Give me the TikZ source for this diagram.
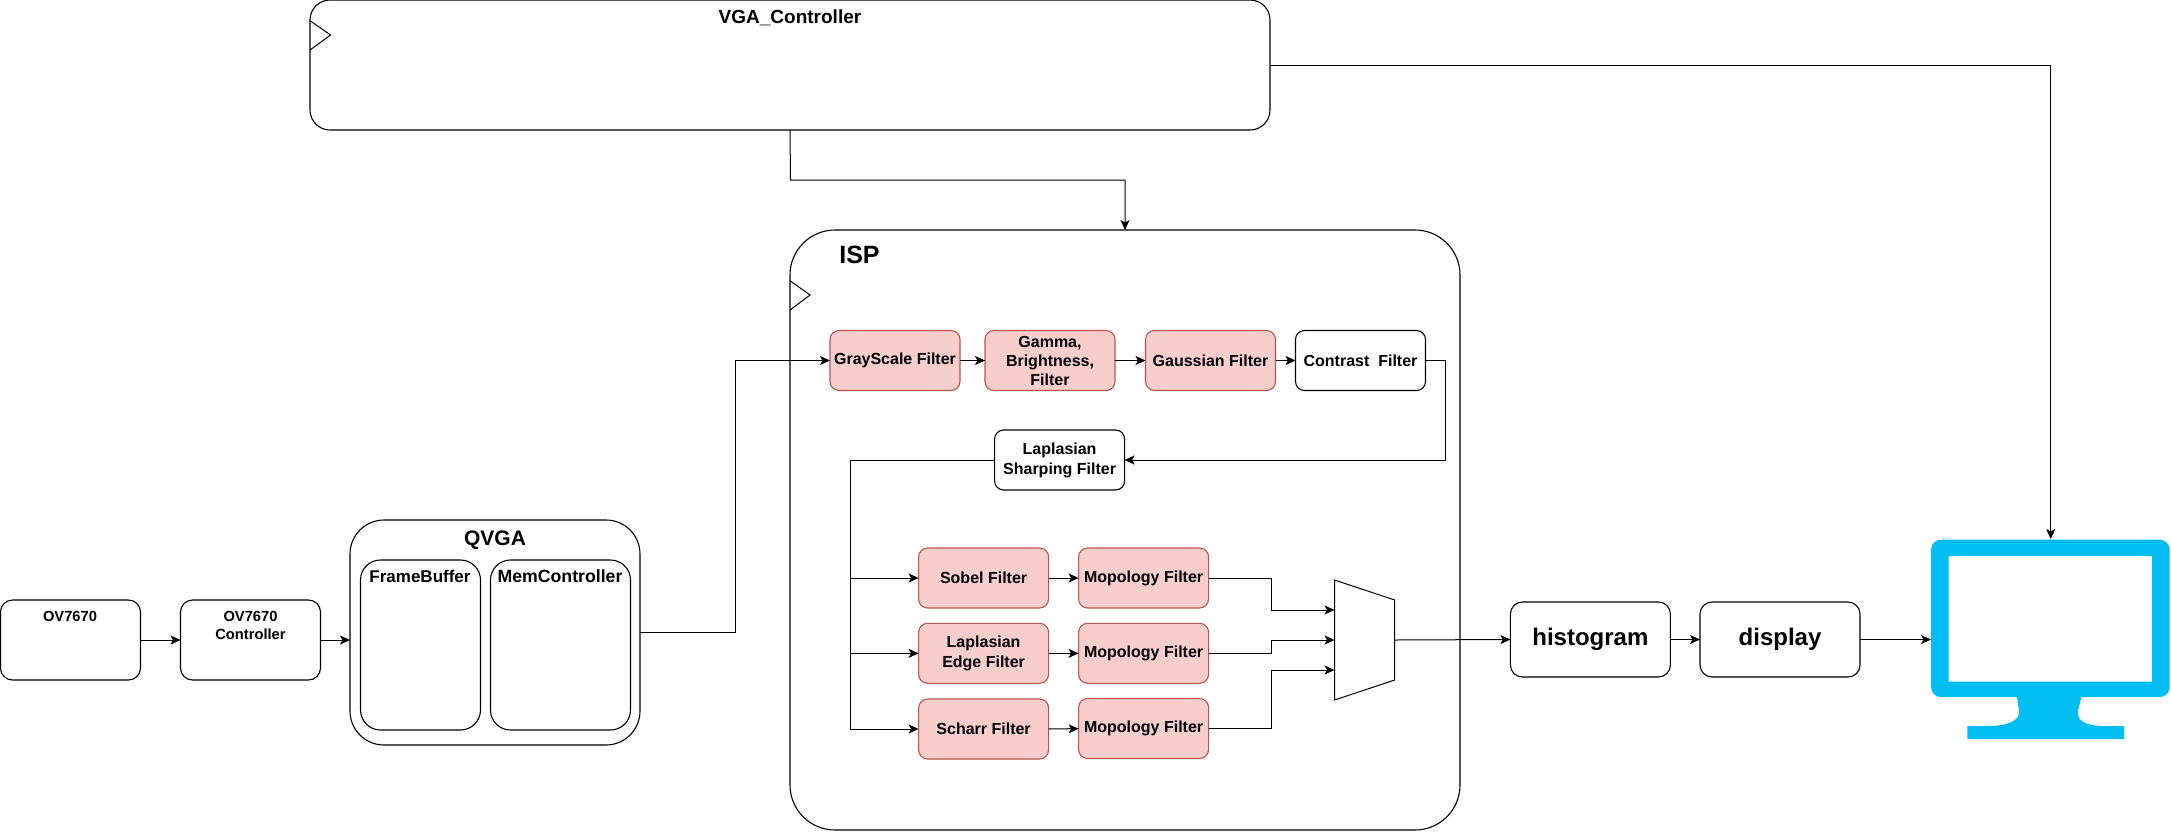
\documentclass[tikz,border=0pt]{standalone}
\usepackage{fontspec}
\setmainfont{Liberation Sans}
\usetikzlibrary{arrows.meta}

\newcommand{\fontfilter}{\fontsize{16}{19}\selectfont\bfseries}
\newcommand{\fontcam}{\fontsize{14.7}{18}\selectfont\bfseries}
\tikzset{
	flow/.style={-{Stealth[length=10pt,width=9pt,inset=2.5pt]}, line width=1pt},
	blockbox/.style={draw=black, fill=white, line width=1.1pt, inner sep=0pt, outer sep=0pt, align=center},
	filterbox/.style={blockbox, minimum width=130pt, minimum height=60pt, rounded corners=9pt, font=\fontfilter,
		execute at begin node={\vspace*{2.5pt}}},
	redfilter/.style={filterbox, draw=filterline, fill=filterfill},
	tag/.style={inner sep=0pt, align=center}
}
\definecolor{filterfill}{HTML}{F8CECC}
\definecolor{filterline}{HTML}{B85450}
\definecolor{screenblue}{HTML}{00BEF2}

\begin{document}
\begin{tikzpicture}[x=1pt,y=-1pt]
	\useasboundingbox (0,0) rectangle (2171,831);

	% top block and ISP frame
	\node[blockbox, minimum width=960pt, minimum height=130pt, rounded corners=20pt] (VGA) at (790,65) {};
	\node[tag, font=\fontsize{19}{22}\selectfont\bfseries] (VGAtag) at (790,18) {VGA\_Controller};
	\draw[line width=1pt] (310,20.7) -- (330.6,35) -- (310,50);
	\node[blockbox, minimum width=670pt, minimum height=600pt, rounded corners=45pt] (ISP) at (1125,530) {};
	\node[tag, font=\fontsize{25}{28}\selectfont\bfseries] (ISPtag) at (859.5,254.5) {ISP};
	\draw[line width=1pt] (790,280.7) -- (810,295) -- (790,310);

	% camera side
	\node[blockbox, minimum width=140pt, minimum height=80pt, rounded corners=12pt] (OV) at (70.5,640) {};
	\node[tag, font=\fontcam] (OVtag) at (70,616.5) {OV7670};
	\node[blockbox, minimum width=140pt, minimum height=80pt, rounded corners=12pt] (CTRL) at (250.5,640) {};
	\node[tag, font=\fontcam] (CTRLtag) at (250.5,625) {OV7670\\Controller};
	\node[blockbox, minimum width=290pt, minimum height=225pt, rounded corners=34pt] (QVGA) at (495,632.5) {};
	\node[tag, font=\fontsize{21}{24}\selectfont\bfseries] (QVGAtag) at (495,540) {QVGA};
	\node[blockbox, minimum width=120pt, minimum height=170pt, rounded corners=20pt] (FB) at (420.5,645) {};
	\node[tag, font=\fontsize{17}{20}\selectfont\bfseries] (FBtag) at (420,576.5) {FrameBuffer};
	\node[blockbox, minimum width=140pt, minimum height=170pt, rounded corners=20pt] (MEM) at (560.5,645) {};
	\node[tag, font=\fontsize{17.7}{20}\selectfont\bfseries] (MEMtag) at (560,576.5) {MemController};

	% filters
	\node[redfilter] (GRAY) at (895,360.5) {GrayScale Filter};
	\node[redfilter] (GAMMA) at (1050,360.5) {Gamma,\\Brightness,\\Filter};
	\node[redfilter] (GAUSS) at (1210.5,360.5) {Gaussian Filter};
	\node[filterbox] (CONT) at (1360.5,360.5) {Contrast\ \ Filter};
	\node[filterbox, font=\fontsize{16}{20}\selectfont\bfseries] (SHARP) at (1059.6,460) {Laplasian\ \\Sharping Filter};
	\node[redfilter] (SOBEL) at (983.6,578) {Sobel Filter};
	\node[redfilter, font=\fontsize{16}{20}\selectfont\bfseries] (LAPE) at (983.6,653.3) {Laplasian\ \\Edge Filter};
	\node[redfilter] (SCHARR) at (983.6,729) {Scharr Filter};
	\node[redfilter] (MOPA) at (1143.6,578) {Mopology Filter};
	\node[redfilter] (MOPB) at (1143.6,653.3) {Mopology Filter};
	\node[redfilter] (MOPC) at (1143.6,728.5) {Mopology Filter};

	% mux
	\draw[line width=1pt] (1334.5,580) -- (1394.7,600) -- (1394.7,680) -- (1334.5,700) -- cycle;
	\coordinate (MUXa) at (1334.5,610);
	\coordinate (MUXb) at (1334.5,640);
	\coordinate (MUXc) at (1334.5,670);
	\coordinate (MUXout) at (1394.7,640);

	% output side
	\node[blockbox, minimum width=160pt, minimum height=75pt, rounded corners=12pt, font=\fontsize{24}{28}\selectfont\bfseries] (HIST) at (1590.4,639.5) {histogram};
	\node[blockbox, minimum width=160pt, minimum height=75pt, rounded corners=12pt, font=\fontsize{24}{28}\selectfont\bfseries] (DISP) at (1780,639.5) {display};

	% monitor
	\fill[screenblue, even odd rule, rounded corners=10pt] (1931,539.7) rectangle (2169.7,697)
		[sharp corners] (1948.5,556) rectangle (2152,681.7);
	\fill[screenblue] (2016.8,696) -- (2019,711) .. controls (2020,722) and (2005,726) .. (1987,726)
		-- (1967.4,726) -- (1967.4,739) -- (2124,739) -- (2124,726) -- (2106,726)
		.. controls (2088,726) and (2076,722) .. (2078,711) -- (2081.6,696) -- cycle;
	\coordinate (MONw) at (1931,639.5);
	\coordinate (MONn) at (2050.7,539);

	% bends
	\coordinate (BENDa) at (790.5,180);
	\coordinate (BENDb) at (735.7,632.5);
	\coordinate (BENDc) at (1445.6,360.5);
	\coordinate (BENDd) at (850.5,460);
	\coordinate (BENDe) at (1271.5,578);
	\coordinate (BENDf) at (1271.5,653.3);
	\coordinate (BENDg) at (1271.5,728.5);

	\path [flow] (OV) edge (CTRL);
	\path [flow] (CTRL) edge (CTRL -| QVGA.west);
	\draw [flow] (VGA.south) -- (BENDa) -| (ISP.north);
	\draw [flow] (VGA.east |- VGA.center) -| (MONn);
	\draw [flow] (QVGA.east) -- (BENDb) |- (GRAY.west);
	\path [flow] (GRAY) edge (GAMMA);
	\path [flow] (GAMMA) edge (GAUSS);
	\path [flow] (GAUSS) edge (CONT);
	\draw [flow] (CONT.east) -- (BENDc) |- (SHARP.east);
	\draw [flow] (SHARP.west) -- (BENDd) |- (SOBEL.west);
	\draw [flow] (BENDd) |- (LAPE.west);
	\draw [flow] (BENDd) |- (SCHARR.west);
	\path [flow] (SOBEL) edge (MOPA);
	\path [flow] (LAPE) edge (MOPB);
	\path [flow] (SCHARR) edge (MOPC);
	\draw [flow] (MOPA.east) -- (BENDe) |- (MUXa);
	\draw [flow] (MOPB.east) -- (BENDf) |- (MUXb);
	\draw [flow] (MOPC.east) -- (BENDg) |- (MUXc);
	\draw [flow] (MUXout) -- (HIST.west);
	\path [flow] (HIST) edge (DISP);
	\draw [flow] (DISP.east) -- (MONw);
\end{tikzpicture}
\end{document}
